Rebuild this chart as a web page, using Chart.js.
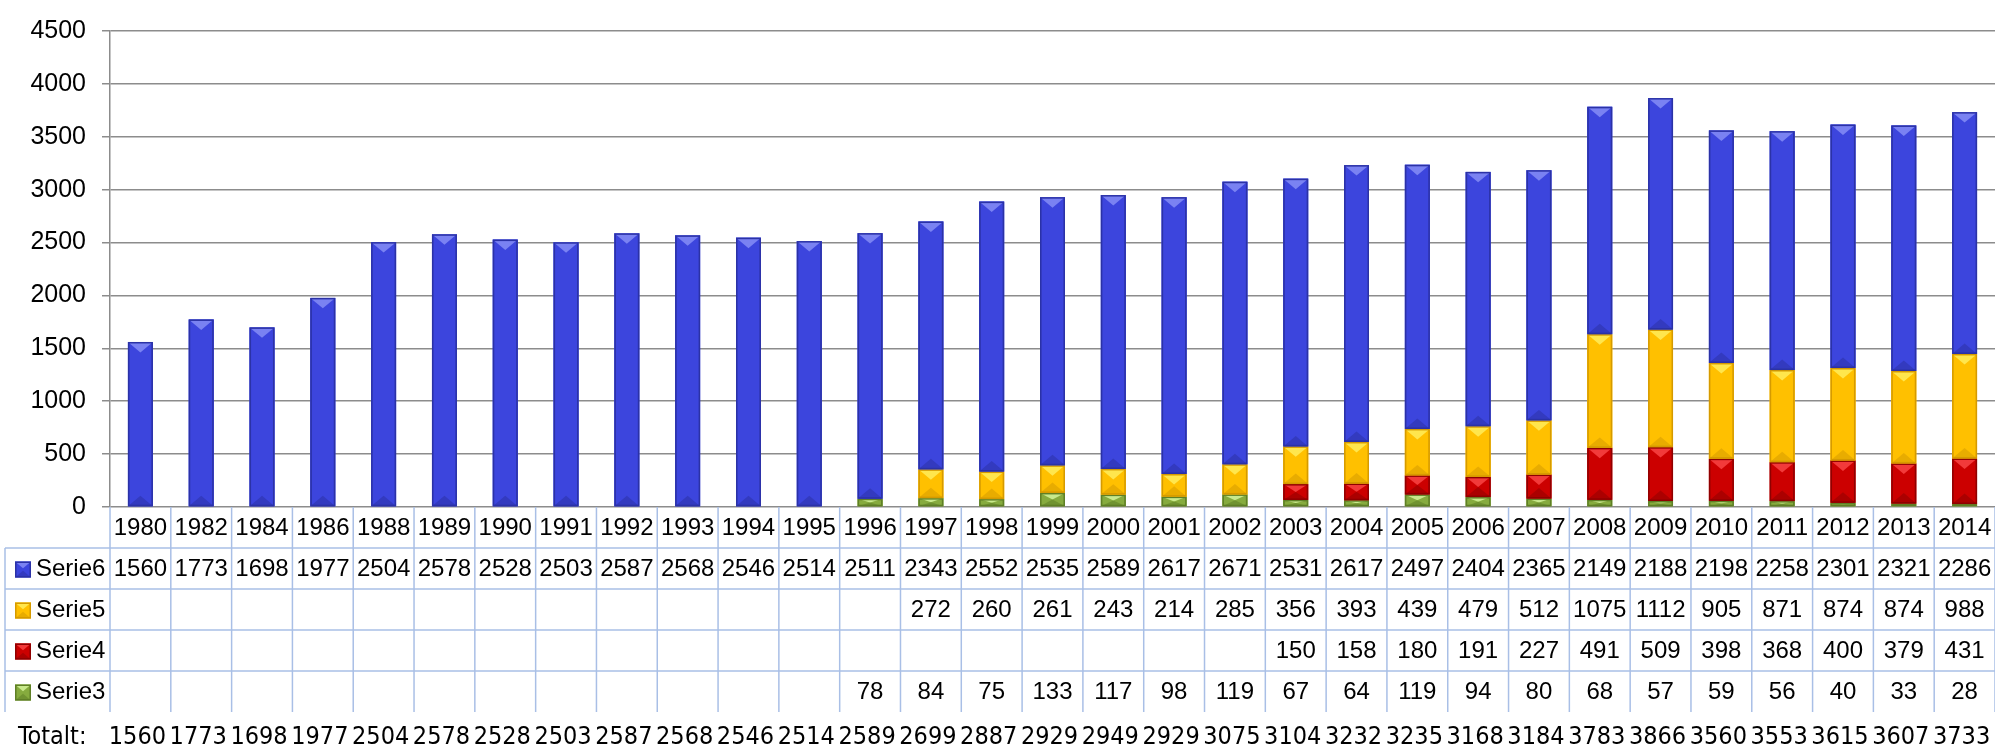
<!DOCTYPE html>
<html lang="en">
<head>
    <meta charset="UTF-8">
    <title>Serie3-6 1980-2014</title>
    <script src="https://cdn.jsdelivr.net/npm/chart.js"></script>
    <style>
        body { margin: 0; background: #fff; }
        .chart-container { width: 1995px; height: 752px; position: relative; }
    </style>
</head>
<body>
    <div class="chart-container">
        <canvas id="stackChart"></canvas>
    </div>
    <script>
        // data
        const years = ['1980', '1982', '1984', '1986', '1988', '1989', '1990', '1991', '1992', '1993',
            '1994', '1995', '1996', '1997', '1998', '1999', '2000', '2001', '2002', '2003', '2004',
            '2005', '2006', '2007', '2008', '2009', '2010', '2011', '2012', '2013', '2014'];

        const serie6 = [1560, 1773, 1698, 1977, 2504, 2578, 2528, 2503, 2587, 2568, 2546, 2514, 2511,
            2343, 2552, 2535, 2589, 2617, 2671, 2531, 2617, 2497, 2404, 2365, 2149, 2188, 2198, 2258,
            2301, 2321, 2286];
        const serie5 = [null, null, null, null, null, null, null, null, null, null, null, null, null,
            272, 260, 261, 243, 214, 285, 356, 393, 439, 479, 512, 1075, 1112, 905, 871, 874, 874, 988];
        const serie4 = [null, null, null, null, null, null, null, null, null, null, null, null, null,
            null, null, null, null, null, null, 150, 158, 180, 191, 227, 491, 509, 398, 368, 400, 379, 431];
        const serie3 = [null, null, null, null, null, null, null, null, null, null, null, null, 78,
            84, 75, 133, 117, 98, 119, 67, 64, 119, 94, 80, 68, 57, 59, 56, 40, 33, 28];
        const totals = [1560, 1773, 1698, 1977, 2504, 2578, 2528, 2503, 2587, 2568, 2546, 2514, 2589,
            2699, 2887, 2929, 2949, 2929, 3075, 3104, 3232, 3235, 3168, 3184, 3783, 3866, 3560, 3553,
            3615, 3607, 3733];

        const colors = {
            Serie6: { main: '#3c45dd', light: '#7a82f2', dark: '#2b32a6' },
            Serie5: { main: '#ffc000', light: '#ffe64d', dark: '#d59a00' },
            Serie4: { main: '#cc0000', light: '#f23a3a', dark: '#8f0000' },
            Serie3: { main: '#86ab3e', light: '#c8e98c', dark: '#5f7f26' }
        };

        const FONT = '"Liberation Sans", Arial, sans-serif';
        const NARROW = '"Liberation Sans Narrow", "DejaVu Sans Condensed", sans-serif';
        const ROW_H = 41;
        const LINE = '#a9bfe6';

        // bar with the little bevel look: light wedge on top, dark wedge at the foot
        function bevel(ctx, left, top, right, bottom, c) {
            const w = right - left, h = bottom - top;
            if (h <= 0) return;
            ctx.save();
            ctx.fillStyle = c.main;
            ctx.fillRect(left, top, w, h);
            const d = Math.min(w * 0.42, h / 2);
            const mid = (left + right) / 2;
            if (d > 1.5) {
                ctx.fillStyle = c.light;
                ctx.beginPath();
                ctx.moveTo(left, top); ctx.lineTo(right, top); ctx.lineTo(mid, top + d);
                ctx.closePath(); ctx.fill();
                ctx.fillStyle = c.dark;
                ctx.globalAlpha = 0.55;
                ctx.beginPath();
                ctx.moveTo(left, bottom); ctx.lineTo(right, bottom); ctx.lineTo(mid, bottom - d);
                ctx.closePath(); ctx.fill();
                ctx.globalAlpha = 1;
            }
            ctx.strokeStyle = c.dark;
            ctx.lineWidth = 1.5;
            ctx.strokeRect(left + 0.75, top + 0.75, w - 1.5, Math.max(h - 1.5, 0));
            ctx.restore();
        }

        const bevelPlugin = {
            id: 'bevel',
            afterDatasetsDraw(chart) {
                const ctx = chart.ctx;
                chart.data.datasets.forEach((ds, i) => {
                    const meta = chart.getDatasetMeta(i);
                    meta.data.forEach((bar, j) => {
                        if (ds.data[j] == null) return;
                        const half = bar.width / 2;
                        bevel(ctx, bar.x - half, Math.min(bar.y, bar.base), bar.x + half,
                            Math.max(bar.y, bar.base), colors[ds.label]);
                    });
                });
            }
        };

        // data table under the plot, columns taken from the x scale
        const tablePlugin = {
            id: 'dataTable',
            afterDraw(chart) {
                const ctx = chart.ctx;
                const area = chart.chartArea;
                const x = chart.scales.x;
                const n = years.length;
                const colW = area.width / n;
                const top = area.bottom;
                const legendLeft = 5;
                const rows = [
                    { label: 'Serie6', values: serie6 },
                    { label: 'Serie5', values: serie5 },
                    { label: 'Serie4', values: serie4 },
                    { label: 'Serie3', values: serie3 }
                ];

                ctx.save();
                ctx.strokeStyle = LINE;
                ctx.lineWidth = 1.5;

                // vertical lines
                for (let i = 0; i <= n; i++) {
                    const lx = area.left + i * colW;
                    ctx.beginPath();
                    ctx.moveTo(lx, top);
                    ctx.lineTo(lx, top + ROW_H * 5);
                    ctx.stroke();
                }
                ctx.beginPath();
                ctx.moveTo(legendLeft, top + ROW_H);
                ctx.lineTo(legendLeft, top + ROW_H * 5);
                ctx.stroke();

                // horizontal lines
                for (let r = 1; r <= 4; r++) {
                    ctx.beginPath();
                    ctx.moveTo(legendLeft, top + r * ROW_H);
                    ctx.lineTo(area.right, top + r * ROW_H);
                    ctx.stroke();
                }

                ctx.fillStyle = '#000';
                ctx.textBaseline = 'middle';
                ctx.textAlign = 'center';
                ctx.font = '24px ' + FONT;

                // year header
                years.forEach((y, i) => {
                    ctx.fillText(y, x.getPixelForValue(i), top + ROW_H / 2 + 1);
                });

                // series rows
                rows.forEach((row, r) => {
                    const cy = top + ROW_H * (r + 1) + ROW_H / 2 + 1;
                    bevel(ctx, 15, cy - 8, 31, cy + 8, colors[row.label]);
                    ctx.textAlign = 'left';
                    ctx.fillStyle = '#000';
                    ctx.fillText(row.label, 36, cy);
                    ctx.textAlign = 'center';
                    row.values.forEach((v, i) => {
                        if (v == null) return;
                        ctx.fillText(String(v), x.getPixelForValue(i), cy);
                    });
                });

                // totals line
                const ty = top + ROW_H * 5 + 25;
                ctx.font = '25px ' + NARROW;
                ctx.textAlign = 'left';
                ctx.fillText('Totalt:', 18, ty);
                ctx.textAlign = 'center';
                totals.forEach((v, i) => {
                    ctx.fillText(String(v), x.getPixelForValue(i) - 3, ty);
                });
                ctx.restore();
            }
        };

        const ctx = document.getElementById('stackChart').getContext('2d');
        const stackChart = new Chart(ctx, {
            type: 'bar',
            data: {
                labels: years,
                datasets: [
                    { label: 'Serie3', data: serie3, backgroundColor: colors.Serie3.main },
                    { label: 'Serie4', data: serie4, backgroundColor: colors.Serie4.main },
                    { label: 'Serie5', data: serie5, backgroundColor: colors.Serie5.main },
                    { label: 'Serie6', data: serie6, backgroundColor: colors.Serie6.main }
                ]
            },
            options: {
                responsive: true,
                maintainAspectRatio: false,
                animation: false,
                layout: { padding: { top: 24, right: 0, bottom: 245, left: 0 } },
                datasets: {
                    bar: { categoryPercentage: 1, barPercentage: 0.41 }
                },
                plugins: {
                    legend: { display: false },
                    tooltip: { enabled: false }
                },
                scales: {
                    x: {
                        stacked: true,
                        display: false
                    },
                    y: {
                        stacked: true,
                        min: 0,
                        max: 4500,
                        ticks: {
                            stepSize: 500,
                            color: '#000',
                            font: { size: 25, family: FONT },
                            padding: 16,
                            callback: (v) => String(v)
                        },
                        grid: {
                            color: '#8c8c8c',
                            lineWidth: 1.5,
                            tickLength: 8,
                            tickColor: '#8c8c8c'
                        },
                        border: { color: '#8c8c8c', width: 1.5 },
                        afterFit(scale) { scale.width = 110; }
                    }
                }
            },
            plugins: [bevelPlugin, tablePlugin]
        });
    </script>
</body>
</html>
